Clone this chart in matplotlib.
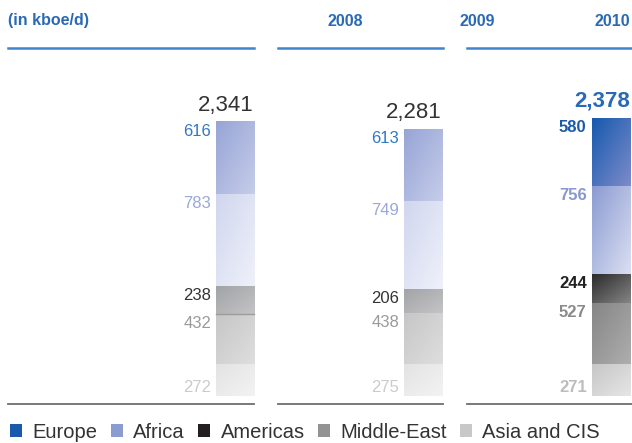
import matplotlib.pyplot as plt
import numpy as np
from matplotlib.colors import to_rgb
from matplotlib.lines import Line2D
from matplotlib.patches import Patch

plt.rcParams['font.family'] = ['Liberation Sans', 'DejaVu Sans']

# Production by region, kboe/d (stacked bottom -> top)
years = ['2008', '2009', '2010']
regions = ['Asia and CIS', 'Middle-East', 'Americas', 'Africa', 'Europe']
asia = [272, 275, 271]
middle_east = [432, 438, 527]
americas = [238, 206, 244]
africa = [783, 749, 756]
europe = [616, 613, 580]
totals = ['2,341', '2,281', '2,378']
total_values = [2341, 2281, 2378]

# gradient colours (top-left, bottom-right) for past years and current year
grad_past = {
    'Europe': ('#97a5d6', '#c6cdea'),
    'Africa': ('#d0d6ee', '#eff1fa'),
    'Americas': ('#a2a3a6', '#c4c4c6'),
    'Middle-East': ('#c6c6c6', '#dedede'),
    'Asia and CIS': ('#e3e3e3', '#f3f3f3'),
}
grad_now = {
    'Europe': ('#1659ae', '#7d8bca'),
    'Africa': ('#8b9bd2', '#dadff2'),
    'Americas': ('#2b2b2b', '#858585'),
    'Middle-East': ('#858585', '#aeaeae'),
    'Asia and CIS': ('#c6c6c6', '#e6e6e6'),
}
label_past = {
    'Europe': '#2f78c4',
    'Africa': '#9aa8d8',
    'Americas': '#333333',
    'Middle-East': '#9a9a9a',
    'Asia and CIS': '#cbcbcb',
}
label_now = {
    'Europe': '#1a5aa8',
    'Africa': '#8797cf',
    'Americas': '#222222',
    'Middle-East': '#8a8a8a',
    'Asia and CIS': '#bdbdbd',
}
legend_colors = ['#1a5aaa', '#8a9cd0', '#231f20', '#939393', '#c8c8c8']
legend_names = ['Europe', 'Africa', 'Americas', 'Middle-East', 'Asia and CIS']

blue = '#2a6ab4'

fig = plt.figure(figsize=(6.32, 4.43), dpi=100)
ax = fig.add_axes([0, 47 / 443, 1, 339 / 443])
ax.set_xlim(-1.2517, 2.1145)
ax.set_ylim(0, 2900)
ax.axis('off')

width = 0.2024


def gradient(c0, c1, n=60):
    a = np.array(to_rgb(c0))
    b = np.array(to_rgb(c1))
    u = np.linspace(0, 1, n)
    t = (u[None, :] + u[:, None]) / 2
    return a + (b - a) * t[..., None]


series = [asia, middle_east, americas, africa, europe]
for i, year in enumerate(years):
    grads = grad_now if i == 2 else grad_past
    lcols = label_now if i == 2 else label_past
    weight = 'bold' if i == 2 else 'normal'
    bottom = 0
    left = i - width / 2
    for name, vals in zip(regions, series):
        v = vals[i]
        top = bottom + v
        ax.imshow(gradient(*grads[name]), extent=(left, left + width, bottom, top),
                  aspect='auto', interpolation='bilinear', zorder=2)
        if name == 'Asia and CIS':
            ax.annotate(str(v), (left, bottom), xytext=(-3.5, 3), textcoords='offset points',
                        ha='right', va='baseline', fontsize=12, color=lcols[name],
                        fontweight=weight)
        else:
            ax.annotate(str(v), (left, top), xytext=(-3.5, -1.5), textcoords='offset points',
                        ha='right', va='top', fontsize=12, color=lcols[name],
                        fontweight=weight)
        bottom = top
    # thin divider inside the first bar
    if i == 0:
        y = asia[i] + middle_east[i]
        ax.plot([left, left + width], [y, y], color='#9c9c9c', lw=1, zorder=3)
    ax.annotate(totals[i], (left + width, total_values[i]), xytext=(0, 8),
                textcoords='offset points', ha='right', va='baseline',
                fontsize=16, color=blue if i == 2 else '#333333',
                fontweight='bold' if i == 2 else 'normal')

# header
hy = 1 - 21 / 443
fig.text(8 / 632, hy, '(in kboe/d)', ha='left', va='center',
         fontsize=11.5, fontweight='bold', color=blue)
fig.text(345 / 632, hy, '2008', ha='center', va='center',
         fontsize=11.5, fontweight='bold', color=blue)
fig.text(459 / 632, hy, '2009', ha='left', va='center',
         fontsize=11.5, fontweight='bold', color=blue)
fig.text(630 / 632, hy, '2010', ha='right', va='center',
         fontsize=11.5, fontweight='bold', color=blue)

spans = [(8, 254), (278, 443), (467, 632)]
for x0, x1 in spans:
    fig.add_artist(Line2D([x0 / 632, x1 / 632], [1 - 48 / 443] * 2,
                          color='#3f84cc', lw=1.8))
    fig.add_artist(Line2D([x0 / 632, x1 / 632], [1 - 404 / 443] * 2,
                          color='#6e6e6e', lw=1.3))

handles = [Patch(facecolor=c, edgecolor='none') for c in legend_colors]
fig.legend(handles, legend_names, loc='center left',
           bbox_to_anchor=(10 / 632, 1 - 432 / 443),
           ncol=5, frameon=False, fontsize=14.5, handlelength=0.62, handleheight=0.62,
           handletextpad=0.5, columnspacing=0.65, borderaxespad=0, borderpad=0,
           labelcolor='#333333')

fig.savefig('out.png', dpi=100)
